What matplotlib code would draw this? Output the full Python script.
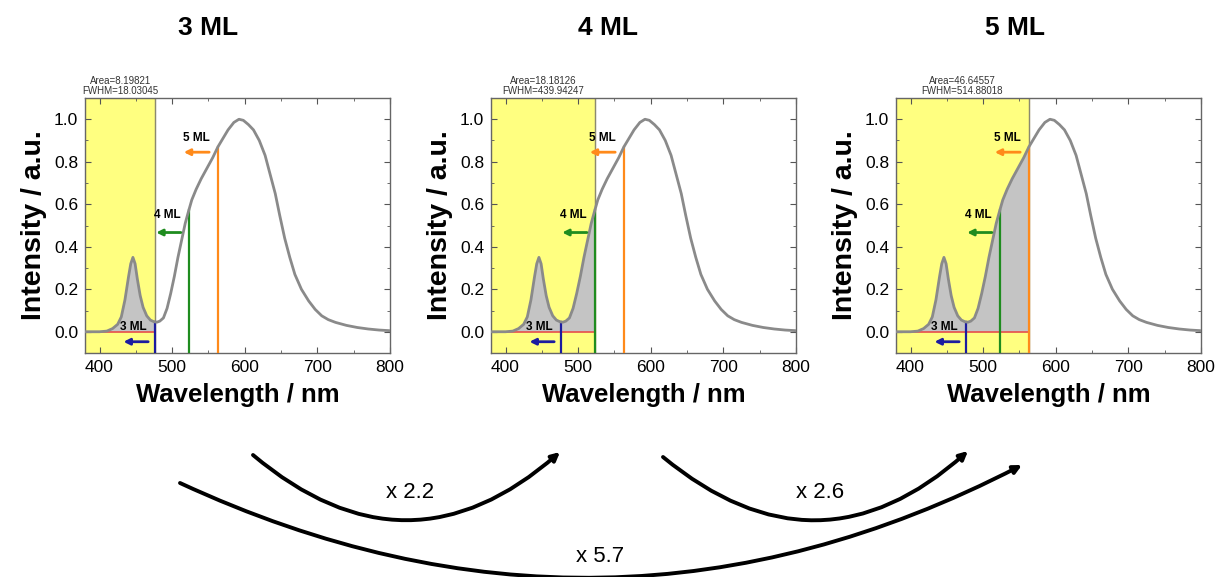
import numpy as np
import matplotlib
matplotlib.use("Agg")
import matplotlib.pyplot as plt
from matplotlib.patches import Rectangle, FancyArrowPatch
from matplotlib.ticker import MultipleLocator
import matplotlib.transforms as mtransforms

plt.rcParams['font.family'] = ['Liberation Sans', 'DejaVu Sans']

# ---- data ----
wavelength = [380, 400, 410, 418, 425, 430, 435, 440, 443, 446, 449, 452, 456, 460,
              465, 470, 475, 479, 483, 488, 493, 498, 503, 508, 513, 518, 522, 527,
              533, 540, 548, 556, 563, 570, 577, 585, 592, 598, 605, 612, 620, 628,
              635, 642, 648, 655, 662, 669, 678, 688, 697, 706, 715, 725, 740, 755,
              770, 785, 800]
intensity = [0.0, 0.0, 0.003, 0.015, 0.035, 0.07, 0.15, 0.26, 0.32, 0.35, 0.32, 0.25,
             0.17, 0.115, 0.075, 0.055, 0.047, 0.045, 0.05, 0.065, 0.11, 0.18, 0.26,
             0.35, 0.43, 0.51, 0.56, 0.62, 0.67, 0.72, 0.77, 0.82, 0.87, 0.91, 0.95,
             0.985, 1.0, 0.995, 0.975, 0.95, 0.90, 0.83, 0.74, 0.65, 0.55, 0.44, 0.35,
             0.27, 0.20, 0.145, 0.105, 0.075, 0.057, 0.044, 0.03, 0.02, 0.013, 0.008,
             0.005]

panel_titles = ["3 ML", "4 ML", "5 ML"]
cut_wavelengths = [477, 523, 563]          # 3 ML, 4 ML, 5 ML edges
cut_labels = ["3 ML", "4 ML", "5 ML"]
area_texts = ["Area=8.19821", "Area=18.18126", "Area=46.64557"]
fwhm_texts = ["FWHM=18.03045", "FWHM=439.94247", "FWHM=514.88018"]
ratio_labels = ["x 2.2", "x 2.6", "x 5.7"]

x_ticks = [400, 500, 600, 700, 800]
y_ticks = [0.0, 0.2, 0.4, 0.6, 0.8, 1.0]

cut_colors = ["#1c1ca0", "#1f8c1f", "#ff8a1a"]
label_pos = [(447, 0.02), (494, 0.55), (534, 0.91)]
arrow_y = [-0.047, 0.467, 0.845]
arrow_x = [(467, 433), (512, 478), (551, 516)]

W, H = 1215, 577
fig = plt.figure(figsize=(W / 100, H / 100), dpi=100)

wl = np.array(wavelength, dtype=float)
it = np.array(intensity, dtype=float)

ax_lefts = [85, 491, 896]
title_x = [208, 608, 1015]
for p in range(3):
    ax = fig.add_axes([ax_lefts[p] / W, 1 - 353 / H, 305 / W, 255 / H])
    thr = cut_wavelengths[p]
    ax.set_xlim(380, 800)
    ax.set_ylim(-0.1, 1.1)
    ax.add_patch(Rectangle((380, -0.1), thr - 380, 1.2, facecolor="#ffff80",
                           edgecolor="#f0b040", lw=0.8, zorder=1))
    ax.plot([thr, thr], [-0.1, 1.1], color="#8a8a70", lw=1.0, zorder=2)
    m = wl <= thr
    fx = np.append(wl[m], thr)
    fy = np.append(it[m], np.interp(thr, wl, it))
    ax.fill_between(fx, fy, 0, color="#c4c4c4", zorder=2, lw=0)
    ax.plot([380, thr], [0, 0], color="#e8504a", lw=1.2, zorder=3)
    for k in range(3):
        cx = cut_wavelengths[k]
        top = np.interp(cx, wl, it)
        ax.plot([cx, cx], [-0.1, top], color=cut_colors[k], lw=1.6, zorder=4)
        ax.text(label_pos[k][0], label_pos[k][1], cut_labels[k], fontsize=8.5,
                fontweight="bold", ha="center", va="center", zorder=6)
        ax.annotate("", xy=(arrow_x[k][1], arrow_y[k]), xytext=(arrow_x[k][0], arrow_y[k]),
                    arrowprops=dict(arrowstyle="-|>", color=cut_colors[k], lw=2.0,
                                    mutation_scale=9, shrinkA=0, shrinkB=0), zorder=6)
    ax.plot(wl, it, color="#8a8a8a", lw=2.0, zorder=5)

    ax.set_xticks(x_ticks)
    ax.set_yticks(y_ticks)
    ax.set_yticklabels([f"{v:.1f}" for v in y_ticks])
    ax.xaxis.set_minor_locator(MultipleLocator(50))
    ax.yaxis.set_minor_locator(MultipleLocator(0.1))
    ax.tick_params(which="both", direction="in", top=True, right=True, color="#555555")
    ax.tick_params(which="major", length=4, labelsize=12.5, pad=5)
    ax.tick_params(which="minor", length=2.5)
    for s in ax.spines.values():
        s.set_color("#666666")
        s.set_linewidth(1.0)
    ax.set_xlabel("Wavelength / nm", fontsize=18.5, fontweight="bold", labelpad=6)
    ax.set_ylabel("Intensity / a.u.", fontsize=20.5, fontweight="bold", labelpad=5)

    trans = mtransforms.blended_transform_factory(ax.transData, ax.transAxes)
    ax.text((380 + thr) / 2, 1.067, area_texts[p], transform=trans, fontsize=7,
            ha="center", va="center", color="#333333", clip_on=False)
    ax.text((380 + thr) / 2, 1.027, fwhm_texts[p], transform=trans, fontsize=7,
            ha="center", va="center", color="#333333", clip_on=False)

    fig.text(title_x[p] / W, 1 - 28 / H, panel_titles[p], fontsize=19,
             fontweight="bold", ha="center", va="center")

arcs = [((253, 455), (560, 452), 0.43, (410, 492)),
        ((663, 457), (968, 451), 0.43, (820, 493)),
        ((180, 483), (1022, 465), 0.245, (600, 557))]
for i, (a, b, rad, tp) in enumerate(arcs):
    arr = FancyArrowPatch((a[0] / W, 1 - a[1] / H), (b[0] / W, 1 - b[1] / H),
                          transform=fig.transFigure,
                          connectionstyle=f"arc3,rad={rad}", arrowstyle="-|>",
                          mutation_scale=12, lw=2.8, color="black",
                          shrinkA=0, shrinkB=0)
    fig.patches.append(arr)
    fig.text(tp[0] / W, 1 - tp[1] / H, ratio_labels[i], fontsize=16,
             ha="center", va="center")

fig.savefig("out.png", dpi=100)
